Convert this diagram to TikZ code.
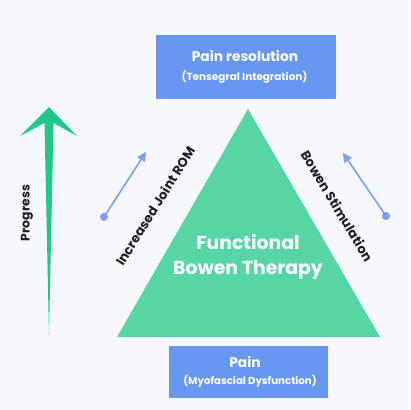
\documentclass[tikz,border=0pt]{standalone}
\usepackage{fontspec}
\setmainfont{Poppins}
\usetikzlibrary{arrows.meta}
\definecolor{bg}{HTML}{F6F8FD}
\definecolor{boxblue}{HTML}{6897F2}
\definecolor{trigreen}{HTML}{57D6A4}
\definecolor{arrgreen}{HTML}{20C987}
\definecolor{lightblue}{HTML}{7F9CF5}
\definecolor{darktext}{HTML}{1E1E1E}
\tikzset{
  boxnode/.style={fill=boxblue, inner sep=0pt, text=white, align=center},
  sidelabel/.style={text=darktext, font=\bfseries\fontsize{13}{15}\selectfont, inner sep=0pt},
  bluearrow/.style={draw=lightblue, line width=1.6pt, -{Triangle[length=9pt,width=9pt]}},
}
\begin{document}
\begin{tikzpicture}[x=1pt,y=-1pt]
\fill[bg] (0,0) rectangle (410,410);
\useasboundingbox (0,0) rectangle (410,410);

% top box
\node[boxnode, minimum width=180pt, minimum height=64pt] (top) at (246,67) {};
\node[text=white, font=\bfseries\fontsize{13.8}{16}\selectfont, inner sep=0pt] (toptitle) at (245,56) {Pain resolution};
\node[text=white, font=\bfseries\fontsize{10.4}{12}\selectfont, inner sep=0pt] (topsub) at (244.5,77) {(Tensegral Integration)};

% bottom box
\node[boxnode, minimum width=159pt, minimum height=52pt] (bot) at (248.5,372) {};
\node[text=white, font=\bfseries\fontsize{13.8}{16}\selectfont, inner sep=0pt] (bottitle) at (245,362) {Pain};
\node[text=white, font=\bfseries\fontsize{10.2}{12}\selectfont, inner sep=0pt] (botsub) at (250,381) {(Myofascial Dysfunction)};

% triangle
\fill[trigreen] (248,109) -- (380,337) -- (117,337) -- cycle;
\node[text=white, font=\bfseries\fontsize{18.8}{25}\selectfont, align=center, inner sep=0pt] (ftext) at (248,256.5) {Functional\\Bowen Therapy};

% green progress arrow
\fill[arrgreen] (49,107) -- (77,136) -- (53.5,123) -- (49,335) -- (44.5,123) -- (20,136) -- cycle;
\node[sidelabel, font=\bfseries\fontsize{12.4}{14}\selectfont, rotate=90] (prog) at (27,213) {Progress};

% side labels
\node[sidelabel, rotate=58] (lefttext) at (155,206) {Increased Joint ROM};
\node[sidelabel, rotate=-59] (righttext) at (337,206) {Bowen Stimulation};

% blue arrows
\coordinate (l1) at (104,217);
\coordinate (l2) at (146,152);
\coordinate (r1) at (386,216);
\coordinate (r2) at (343,153);
\draw[bluearrow] (l1) -- (l2);
\draw[bluearrow] (r1) -- (r2);
\fill[lightblue] (l1) circle (4);
\fill[lightblue] (r1) circle (4);
\end{tikzpicture}
\end{document}
